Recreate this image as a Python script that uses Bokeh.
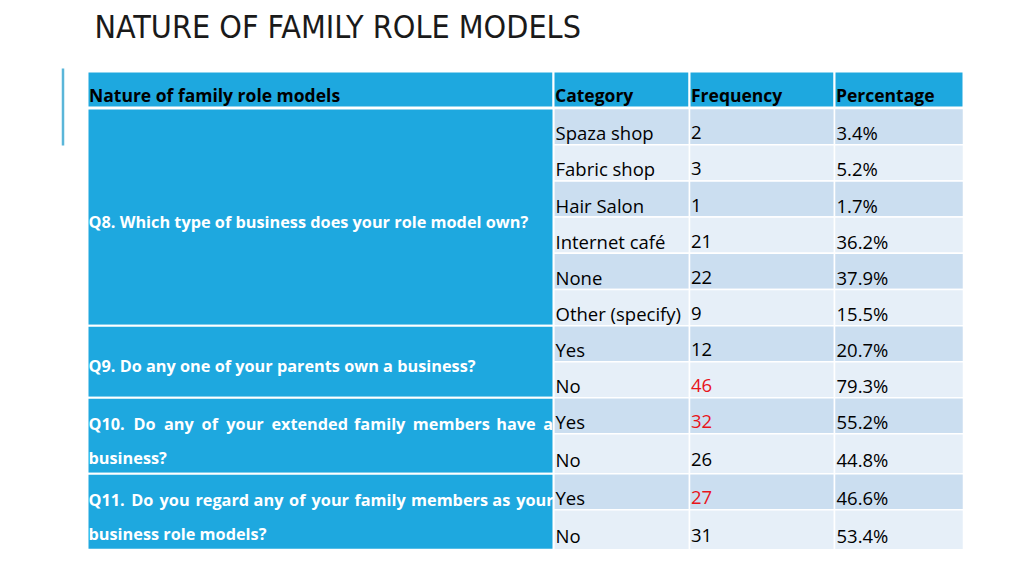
from bokeh.plotting import figure
from bokeh.models import Range1d, ColumnDataSource
from bokeh.core.properties import value
from bokeh.embed import file_html
from bokeh.resources import INLINE

# ---- data ----
title = "NATURE OF FAMILY ROLE MODELS"
headers = ["Nature of family role models", "Category", "Frequency", "Percentage"]
questions = [
    ["Q8. Which type of business does your role model own?"],
    ["Q9. Do any one of your parents own a business?"],
    ["Q10. Do any of your extended family members have a", "business?"],
    ["Q11. Do you regard any of your family members as your", "business role models?"],
]
question_rows = [6, 2, 2, 2]
categories = ["Spaza shop", "Fabric shop", "Hair Salon", "Internet café", "None",
              "Other (specify)", "Yes", "No", "Yes", "No", "Yes", "No"]
frequency = [2, 3, 1, 21, 22, 9, 12, 46, 32, 26, 27, 31]
percentage = [3.4, 5.2, 1.7, 36.2, 37.9, 15.5, 20.7, 79.3, 55.2, 44.8, 46.6, 53.4]
highlighted = [False, False, False, False, False, False, False, True, True, False, True, False]

# ---- styling / layout ----
BLUE = "#1EA8DF"
DARK_ROW = "#CBDEF0"
LIGHT_ROW = "#E6EFF8"
RED = "#E8141B"
FONT = "Open Sans"
Q_SIZE = 16.3
col_edges = [88, 554, 690, 835, 964]
header_top, header_bot = 72, 108
row_heights = [36.2] * 6 + [36, 36, 36, 40, 36, 40]

# approximate advance widths (em) of Open Sans Bold, used to justify wrapped lines
_W = {" ": .26, "a": .574, "b": .613, "c": .493, "d": .613, "e": .564, "f": .377,
      "g": .546, "h": .634, "i": .297, "l": .297, "m": .959, "n": .634, "o": .596,
      "p": .613, "r": .434, "s": .487, "t": .416, "u": .634, "v": .559, "w": .824,
      "x": .56, "y": .559, ".": .285, "?": .452, "Q": .788, "0": .572, "1": .572,
      "D": .732}


def word_width(w, size):
    return sum(_W.get(ch, .58) for ch in w) * size


p = figure(width=1008, height=560, x_range=Range1d(1, 1009), y_range=Range1d(561, 1),
           output_backend="svg", toolbar_location=None, min_border=0,
           x_axis_location=None, y_axis_location=None)
p.grid.visible = False
p.outline_line_color = None
p.background_fill_color = "white"
p.border_fill_color = "white"

# title
p.text(x=[95], y=[27], text=[title],
       text_font=value("'Liberation Sans Narrow', 'DejaVu Sans Condensed', sans-serif"),
       text_font_size="32px", text_color="#1A1A1A", text_baseline="middle")
# accent bar
p.segment(x0=[63.5], y0=[69], x1=[63.5], y1=[146], line_color="#5AB6D9", line_width=2.5)

# header cells
p.quad(left=col_edges[:-1], right=col_edges[1:], top=[header_top] * 4, bottom=[header_bot] * 4,
       fill_color=BLUE, line_color="white", line_width=2)
p.text(x=[e + 1.5 for e in col_edges[:-1]], y=[header_bot - 13] * 4, text=headers,
       text_font=value(FONT), text_font_style="bold", text_font_size="17.5px",
       text_color="black", text_baseline="alphabetic")

# data rows
tops, bots = [], []
y = header_bot + 1
for h in row_heights:
    tops.append(y)
    bots.append(y + h)
    y += h
fills = [DARK_ROW if i % 2 == 0 else LIGHT_ROW for i in range(len(categories))]
for c in range(1, 4):
    p.quad(left=[col_edges[c]] * len(tops), right=[col_edges[c + 1]] * len(tops),
           top=tops, bottom=bots, fill_color=fills, line_color="white", line_width=1.5)

centers = [(t + b) / 2 for t, b in zip(tops, bots)]
base = [c + 6 for c in centers]
src = ColumnDataSource(dict(
    y=base, cat=categories,
    freq=[str(f) for f in frequency],
    pct=[f"{v:.1f}%" for v in percentage],
    fcol=[RED if h else "black" for h in highlighted],
))
common = dict(text_font=value(FONT), text_font_size="18.5px", text_baseline="alphabetic")
p.text(x=col_edges[1] + 2, y="y", text="cat", source=src, text_color="black", **common)
p.text(x=col_edges[2] + 1.5, y="y", text="freq", source=src, text_color="fcol", **common)
p.text(x=col_edges[3] + 2, y="y", text="pct", source=src, text_color="black", **common)

# question blocks
start = 0
wx, wy, wt = [], [], []
for q, n in zip(questions, question_rows):
    t, b = tops[start], bots[start + n - 1]
    p.quad(left=[col_edges[0]], right=[col_edges[1]], top=[t], bottom=[b],
           fill_color=BLUE, line_color="white", line_width=2)
    mid = (t + b) / 2
    ys = [mid + 4.5] if len(q) == 1 else [mid - 12, mid + 22]
    for li, (line, yy) in enumerate(zip(q, ys)):
        left = col_edges[0] + 1
        if li < len(q) - 1:
            # justified line: spread words across the cell width
            words = line.split(" ")
            widths = [word_width(w, Q_SIZE) for w in words]
            gap = (col_edges[1] - 1 - left - sum(widths)) / (len(words) - 1)
            xx = left
            for w, ww in zip(words, widths):
                wx.append(xx); wy.append(yy); wt.append(w)
                xx += ww + gap
        else:
            wx.append(left); wy.append(yy); wt.append(line)
    start += n
p.text(x=wx, y=wy, text=wt, text_font=value(FONT), text_font_style="bold",
       text_font_size=f"{Q_SIZE}px", text_color="white", text_baseline="alphabetic")

open("out.html", "w").write(file_html(p, INLINE))
